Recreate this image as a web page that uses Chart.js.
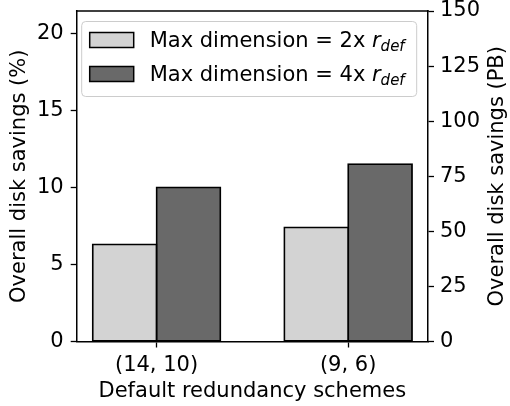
<!DOCTYPE html>
<html>
<head>
<meta charset="utf-8">
<script src="https://cdn.jsdelivr.net/npm/chart.js@4.4.1/dist/chart.umd.min.js"></script>
<style>
  html, body { margin: 0; padding: 0; background: #fff; }
  #wrap { width: 510px; height: 406px; }
</style>
</head>
<body>
<div id="wrap"><canvas id="savingsChart" width="510" height="406"></canvas></div>
<script>
// Data
const categories = ['(14, 10)', '(9, 6)'];
const savings2x = [6.3, 7.4];    // % (light bars)
const savings4x = [10.0, 11.5];  // % (dark bars)
const percentTicks = [0, 5, 10, 15, 20];
const pbTicks = [0, 25, 50, 75, 100, 125, 150];
const seriesNames = ['Max dimension = 2x ', 'Max dimension = 4x '];

const FONT = 'DejaVu Sans';
const fontSize = 21;
Chart.defaults.font.family = FONT;
Chart.defaults.font.size = fontSize;
Chart.defaults.color = '#000';

const lightGray = '#d3d3d3';
const darkGray = '#696969';

// Frame, right axis title and legend drawn by hand (matplotlib style)
const decorations = {
    id: 'decorations',
    afterDraw: function(chart) {
        const {ctx, chartArea: {top, bottom, left, right}} = chart;
        ctx.save();

        // top spine
        ctx.strokeStyle = '#000';
        ctx.lineWidth = 1.5;
        ctx.beginPath();
        ctx.moveTo(left - 0.75, top);
        ctx.lineTo(right + 0.75, top);
        ctx.stroke();

        // right axis title (reads bottom to top)
        ctx.save();
        ctx.translate(498, (top + bottom) / 2);
        ctx.rotate(-Math.PI / 2);
        ctx.fillStyle = '#000';
        ctx.font = fontSize + 'px "' + FONT + '"';
        ctx.textAlign = 'center';
        ctx.textBaseline = 'middle';
        ctx.fillText('Overall disk savings (PB)', 0, 0);
        ctx.restore();

        // legend frame
        const lx = left + 5, ly = top + 10.5, lw = 335, lh = 75;
        ctx.beginPath();
        ctx.roundRect(lx, ly, lw, lh, 4);
        ctx.fillStyle = 'rgba(255,255,255,0.8)';
        ctx.fill();
        ctx.strokeStyle = '#cccccc';
        ctx.lineWidth = 1;
        ctx.stroke();

        const colors = [lightGray, darkGray];
        seriesNames.forEach((name, i) => {
            const cy = ly + 18.5 + i * 34;
            // swatch
            ctx.fillStyle = colors[i];
            ctx.fillRect(lx + 8, cy - 7.5, 44, 15);
            ctx.strokeStyle = '#000';
            ctx.lineWidth = 1.5;
            ctx.strokeRect(lx + 8, cy - 7.5, 44, 15);

            // label with italic r and subscript def
            const baseY = cy + 7;
            let x = lx + 68;
            ctx.fillStyle = '#000';
            ctx.textAlign = 'left';
            ctx.textBaseline = 'alphabetic';
            ctx.font = fontSize + 'px "' + FONT + '"';
            ctx.fillText(name, x, baseY);
            x += ctx.measureText(name).width;
            ctx.font = 'italic ' + fontSize + 'px "' + FONT + '"';
            ctx.fillText('r', x, baseY);
            x += ctx.measureText('r').width;
            ctx.font = 'italic 15px "' + FONT + '"';
            ctx.fillText('def', x, baseY + 4);
        });

        ctx.restore();
    }
};

function noVerticalPadding(scale) {
    scale.paddingTop = 0;
    scale.paddingBottom = 0;
}

const ctx = document.getElementById('savingsChart');
new Chart(ctx, {
    type: 'bar',
    data: {
        datasets: [
            {
                label: seriesNames[0] + 'r_def',
                data: savings2x.map((v, i) => ({x: i, y: v})),
                backgroundColor: lightGray,
                borderColor: '#000',
                borderWidth: 1.8,
                borderSkipped: false,
                inflateAmount: 0.9,
                yAxisID: 'y'
            },
            {
                label: seriesNames[1] + 'r_def',
                data: savings4x.map((v, i) => ({x: i, y: v})),
                backgroundColor: darkGray,
                borderColor: '#000',
                borderWidth: 1.8,
                borderSkipped: false,
                inflateAmount: 0.9,
                yAxisID: 'y'
            }
        ]
    },
    options: {
        responsive: false,
        animation: false,
        devicePixelRatio: 1,
        categoryPercentage: 0.6667,
        barPercentage: 1,
        layout: {
            padding: {top: 11, left: 0, right: 0, bottom: 0}
        },
        plugins: {
            legend: {display: false},
            tooltip: {enabled: false}
        },
        scales: {
            x: {
                type: 'linear',
                min: -0.4167,
                max: 1.4167,
                offset: false,
                afterBuildTicks: function(scale) {
                    scale.ticks = categories.map((c, i) => ({value: i}));
                },
                afterFit: function(scale) {
                    scale.height = 64.5;
                    scale.paddingLeft = 0;
                    scale.paddingRight = 0;
                },
                ticks: {
                    padding: 5,
                    maxRotation: 0,
                    autoSkip: false,
                    callback: function(value) {
                        return categories[value] !== undefined ? categories[value] : '';
                    }
                },
                grid: {
                    offset: false,
                    drawOnChartArea: false,
                    tickLength: 6,
                    tickColor: '#000',
                    tickWidth: 1.3
                },
                border: {display: true, color: '#000', width: 1.5},
                title: {
                    display: true,
                    text: 'Default redundancy schemes',
                    padding: {top: 2, bottom: 2}
                }
            },
            y: {
                position: 'left',
                min: 0,
                max: 21.43,
                afterBuildTicks: function(scale) {
                    scale.ticks = percentTicks.map(v => ({value: v}));
                },
                afterFit: function(scale) {
                    scale.width = 76.7;
                    noVerticalPadding(scale);
                },
                ticks: {padding: 7},
                grid: {
                    drawOnChartArea: false,
                    tickLength: 6,
                    tickColor: '#000',
                    tickWidth: 1.3
                },
                border: {display: true, color: '#000', width: 1.5},
                title: {
                    display: true,
                    text: 'Overall disk savings (%)',
                    padding: {top: 7, bottom: 0}
                }
            },
            y2: {
                position: 'right',
                min: 0,
                max: 150,
                afterBuildTicks: function(scale) {
                    scale.ticks = pbTicks.map(v => ({value: v}));
                },
                afterFit: function(scale) {
                    scale.width = 82;
                    noVerticalPadding(scale);
                },
                ticks: {padding: 6},
                grid: {
                    drawOnChartArea: false,
                    tickLength: 6,
                    tickColor: '#000',
                    tickWidth: 1.3
                },
                border: {display: true, color: '#000', width: 1.5}
            }
        }
    },
    plugins: [decorations]
});
</script>
</body>
</html>
